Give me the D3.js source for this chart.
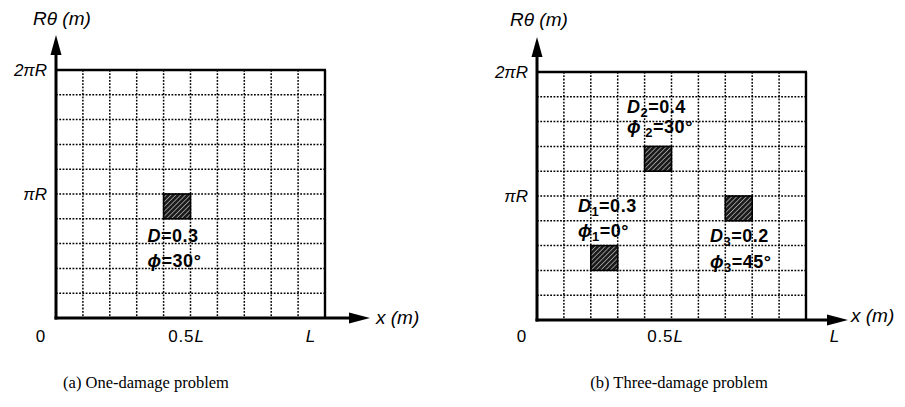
<!DOCTYPE html>
<html>
<head>
<meta charset="utf-8">
<script src="https://cdn.jsdelivr.net/npm/d3@7/dist/d3.min.js"></script>
<style>
  html, body { margin: 0; padding: 0; background: #fff; }
  svg { display: block; }
</style>
</head>
<body>
<svg id="chart" width="905" height="407"></svg>
<script>
// ---------------- DATA ----------------
const gridDivisions = 10;                       // 10 x 10 grid of cells
const xTickValues = [0, 0.5, 1];                // fractions of L
const xTickLabels = ["0", "0.5L", "L"];
const yTickValues = [1, 0.5];                   // fractions of 2πR
const yTickLabels = ["2πR", "πR"];
const yAxisTitle = "Rθ (m)";
const xAxisTitle = "x (m)";
const captions = ["(a) One-damage problem", "(b) Three-damage problem"];

// damaged cells: lower-left corner (fraction of L, fraction of 2πR), one cell each
const damageA_x = [0.4];
const damageA_y = [0.4];
const damageB_x = [0.2, 0.4, 0.7];
const damageB_y = [0.2, 0.6, 0.4];

// damage annotations
const annotA = [
  {sym: "D", sub: "", val: "=0.3", fx: 0.34, fy: 0.305},
  {sym: "ϕ", sub: "", val: "=30°", fx: 0.34, fy: 0.205}
];
const annotB = [
  {sym: "D", sub: "2", val: "=0.4", fx: 0.335, fy: 0.835},
  {sym: "ϕ", sub: " 2", val: "=30°", fx: 0.335, fy: 0.755},
  {sym: "D", sub: "1", val: "=0.3", fx: 0.152, fy: 0.435},
  {sym: "ϕ", sub: "1", val: "=0°", fx: 0.152, fy: 0.335},
  {sym: "D", sub: "3", val: "=0.2", fx: 0.643, fy: 0.315},
  {sym: "ϕ", sub: "3", val: "=45°", fx: 0.643, fy: 0.21}
];

// ---------------- LAYOUT ----------------
const panels = [
  {left: 56, top: 70, w: 269, h: 248, cellsX: damageA_x, cellsY: damageA_y, annot: annotA,
   xTickDx: [-15, -4, -14], arrowTip: 370, xTitleX: 376, xTitleY: 324,
   yTipY: 35, yTitleX: 33, yTitleY: 25, caption: captions[0], capX: 146},
  {left: 537, top: 72, w: 269, h: 248, cellsX: damageB_x, cellsY: damageB_y, annot: annotB,
   xTickDx: [-15, -6, 29], arrowTip: 848, xTitleX: 851, xTitleY: 322,
   yTipY: 37, yTitleX: 510, yTitleY: 26, caption: captions[1], capX: 679}
];

const svg = d3.select("#chart");
const defs = svg.append("defs");
const pat = defs.append("pattern")
  .attr("id", "hatch").attr("patternUnits", "userSpaceOnUse")
  .attr("width", 3.4).attr("height", 3.4)
  .attr("patternTransform", "rotate(45)");
pat.append("rect").attr("width", 3.4).attr("height", 3.4).attr("fill", "#1a1a1a");
pat.append("line").attr("x1", 0).attr("y1", 0).attr("x2", 0).attr("y2", 3.4)
  .attr("stroke", "#fff").attr("stroke-width", 1.0);

const sans = "'Liberation Sans', Arial, Helvetica, sans-serif";
const serif = "'Liberation Serif', 'Times New Roman', serif";

panels.forEach(p => {
  const x = d3.scaleLinear().domain([0, 1]).range([p.left, p.left + p.w]);
  const y = d3.scaleLinear().domain([0, 1]).range([p.top + p.h, p.top]);
  const g = svg.append("g");
  const gridVals = d3.range(1, gridDivisions).map(i => i / gridDivisions);

  // dotted grid
  g.selectAll(".vg").data(gridVals).join("line")
    .attr("x1", d => x(d)).attr("x2", d => x(d))
    .attr("y1", y(1)).attr("y2", y(0))
    .attr("stroke", "#000").attr("stroke-width", 1.5).attr("stroke-dasharray", "1.8,1.5");
  g.selectAll(".hg").data(gridVals).join("line")
    .attr("x1", x(0)).attr("x2", x(1))
    .attr("y1", d => y(d)).attr("y2", d => y(d))
    .attr("stroke", "#000").attr("stroke-width", 1.5).attr("stroke-dasharray", "1.8,1.5");

  // damaged cells
  const cells = p.cellsX.map((cx, i) => ({x: cx, y: p.cellsY[i]}));
  g.selectAll(".cell").data(cells).join("rect")
    .attr("x", d => x(d.x)).attr("y", d => y(d.y + 1 / gridDivisions))
    .attr("width", d => x(d.x + 1 / gridDivisions) - x(d.x))
    .attr("height", d => y(d.y) - y(d.y + 1 / gridDivisions))
    .attr("fill", "url(#hatch)").attr("stroke", "#000").attr("stroke-width", 1.6);

  // frame: top and right borders
  g.append("line").attr("x1", x(0)).attr("x2", x(1) + 1).attr("y1", y(1)).attr("y2", y(1))
    .attr("stroke", "#000").attr("stroke-width", 2.4);
  g.append("line").attr("x1", x(1)).attr("x2", x(1)).attr("y1", y(1)).attr("y2", y(0))
    .attr("stroke", "#000").attr("stroke-width", 2.4);

  // y axis with arrow
  g.append("line").attr("x1", x(0)).attr("x2", x(0)).attr("y1", y(0) + 1.5).attr("y2", p.yTipY + 12)
    .attr("stroke", "#000").attr("stroke-width", 3);
  g.append("path")
    .attr("d", `M${x(0)},${p.yTipY} L${x(0) - 5.5},${p.yTipY + 20} L${x(0) + 5.5},${p.yTipY + 20} Z`)
    .attr("fill", "#000");

  // x axis with arrow
  g.append("line").attr("x1", x(0) - 1.5).attr("x2", p.arrowTip - 12).attr("y1", y(0)).attr("y2", y(0))
    .attr("stroke", "#000").attr("stroke-width", 3);
  g.append("path")
    .attr("d", `M${p.arrowTip},${y(0)} L${p.arrowTip - 21},${y(0) - 5.5} L${p.arrowTip - 21},${y(0) + 5.5} Z`)
    .attr("fill", "#000");

  // x tick labels
  const xt = g.selectAll(".xt").data(xTickValues).join("text")
    .attr("x", (d, i) => x(d) + p.xTickDx[i]).attr("y", 342)
    .attr("text-anchor", "middle")
    .attr("font-family", sans).attr("font-size", 17).attr("letter-spacing", 0.8);
  xt.each(function(d, i) {
    const lab = xTickLabels[i];
    const t = d3.select(this);
    if (lab.endsWith("L")) {
      if (lab.length > 1) t.append("tspan").text(lab.slice(0, -1));
      t.append("tspan").attr("font-style", "italic").text("L");
    } else {
      t.text(lab);
    }
  });

  // y tick labels
  g.selectAll(".yt").data(yTickValues).join("text")
    .attr("x", x(0) - 9).attr("y", d => y(d) + 6)
    .attr("text-anchor", "end")
    .attr("font-family", sans).attr("font-size", 17).attr("font-style", "italic")
    .text((d, i) => yTickLabels[i]);

  // axis titles
  g.append("text").attr("x", p.yTitleX).attr("y", p.yTitleY)
    .attr("font-family", sans).attr("font-size", 19).attr("font-style", "italic")
    .text(yAxisTitle);
  g.append("text").attr("x", p.xTitleX).attr("y", p.xTitleY)
    .attr("font-family", sans).attr("font-size", 19).attr("font-style", "italic")
    .text(xAxisTitle);

  // damage annotations
  p.annot.forEach(a => {
    const t = g.append("text").attr("x", x(a.fx)).attr("y", y(a.fy))
      .attr("font-family", sans).attr("font-size", 18).attr("font-weight", "bold")
      .attr("letter-spacing", 0.5);
    t.append("tspan").attr("font-style", "italic").text(a.sym);
    if (a.sub) t.append("tspan").attr("font-size", 13).attr("dy", 4).text(a.sub);
    t.append("tspan").attr("dy", a.sub ? -4 : 0).text(a.val);
  });

  // caption
  svg.append("text").attr("x", p.capX).attr("y", 388).attr("text-anchor", "middle")
    .attr("font-family", serif).attr("font-size", 16.5).text(p.caption);
});
</script>
</body>
</html>
